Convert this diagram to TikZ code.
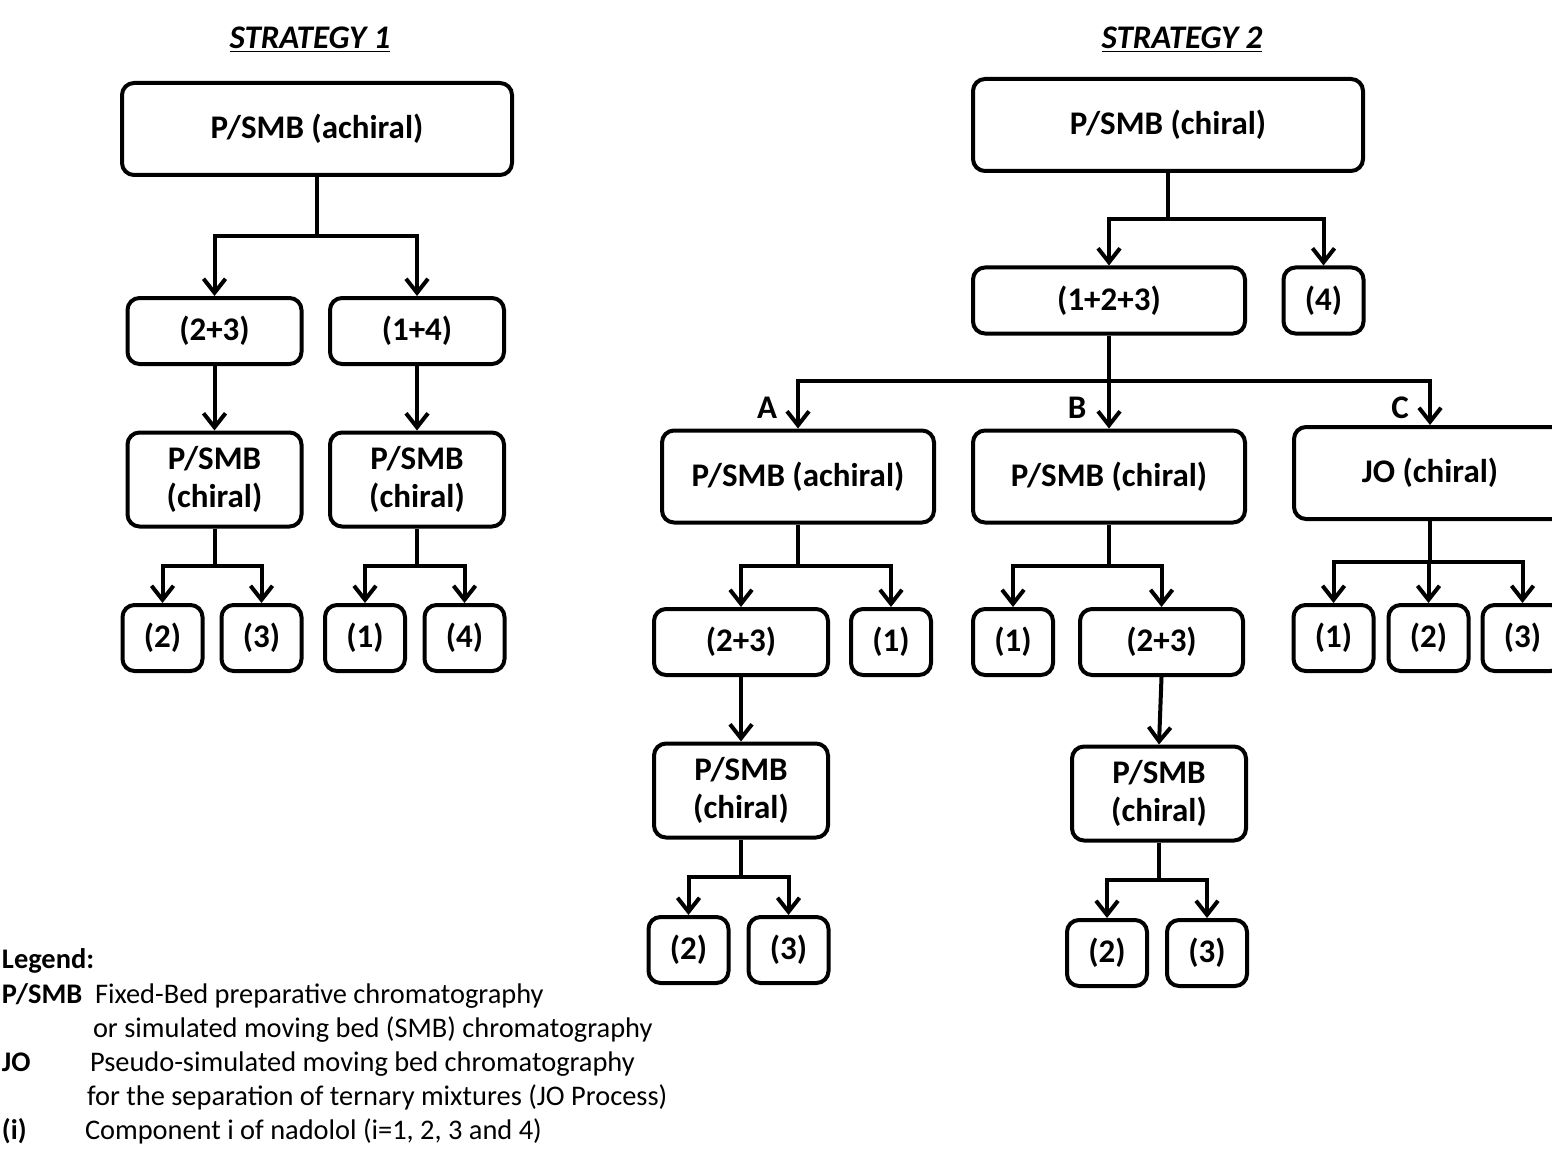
\documentclass[tikz,border=0pt]{standalone}
\usepackage{fontspec}
\setmainfont{Carlito}
\usetikzlibrary{arrows.meta}

\begin{document}
\begin{tikzpicture}[x=0.5pt, y=-0.5pt, line width=2pt,
		box/.style={draw, rounded corners=6pt, align=center, inner sep=0pt, font=\bfseries\fontsize{16.5}{19}\selectfont},
		wide/.style={box, minimum width=195pt, minimum height=46pt},
		widebox/.style={box, minimum width=136pt, minimum height=46pt},
		flat/.style={box, minimum width=136pt, minimum height=33pt},
		mid/.style={box, minimum width=87pt, minimum height=33pt},
		two/.style={box, minimum width=87pt, minimum height=47pt},
		leaf/.style={box, minimum width=40pt, minimum height=33pt},
		ttl/.style={font=\bfseries\fontsize{16.5}{19}\selectfont},
		leg/.style={anchor=base west, inner sep=0pt, font=\fontsize{14.2}{16}\selectfont},
		legb/.style={leg, font=\bfseries\fontsize{14.2}{16}\selectfont},
		arr/.style={-{Straight Barb[length=7pt,width=11pt]}}]
			\clip (0,0) rectangle (1552,1155);
			% titles
			\node[ttl] (ttl1) at (310,40) {\underline{\textit{STRATEGY 1}}};
			\node[ttl] (ttl2) at (1182,40) {\underline{\textit{STRATEGY 2}}};
			% strategy 1
			\node[wide] (t1) at (317,129) {P/SMB (achiral)};
			\node[mid] (s1a) at (214.5,331) {(2+3)};
			\node[mid] (s1b) at (417,331) {(1+4)};
			\node[two] (s1c) at (214.5,479.5) {P/SMB\\(chiral)};
			\node[two] (s1d) at (417,479.5) {P/SMB\\(chiral)};
			\foreach \x/\t/\n in {162.5/{(2)}/s1l1, 261.5/{(3)}/s1l2, 365/{(1)}/s1l3, 464.5/{(4)}/s1l4}
				\node[leaf] (\n) at (\x,638) {\t};
			\coordinate (j1) at (317,236);
			\coordinate (j2) at (214.5,566);
			\coordinate (j3) at (417,566);
			\draw (t1.south) -- (j1);
			\draw[arr] (j1) -| (s1a.north);
			\draw[arr] (j1) -| (s1b.north);
			\draw[arr] (s1a.south) -- (s1c.north);
			\draw[arr] (s1b.south) -- (s1d.north);
			\draw (s1c.south) -- (j2);
			\draw (s1d.south) -- (j3);
			\draw[arr] (j2) -| (s1l1.north);
			\draw[arr] (j2) -| (s1l2.north);
			\draw[arr] (j3) -| (s1l3.north);
			\draw[arr] (j3) -| (s1l4.north);
			% strategy 2
			\node[wide] (t2) at (1168,125) {P/SMB (chiral)};
			\node[flat] (n123) at (1109,300.5) {(1+2+3)};
			\node[leaf] (n4) at (1323.5,300.5) {(4)};
			\node[widebox] (nA) at (798,476.5) {P/SMB (achiral)};
			\node[widebox] (nB) at (1109,476.5) {P/SMB (chiral)};
			\node[widebox] (nC) at (1430,473) {JO (chiral)};
			\node[ttl] (lA) at (767,408) {A};
			\node[ttl] (lB) at (1077,408) {B};
			\node[ttl] (lC) at (1400,408) {C};
			\node[mid] (nA1) at (741,642) {(2+3)};
			\node[leaf] (nA2) at (891,642) {(1)};
			\node[leaf] (nB1) at (1013,642) {(1)};
			\node[box, minimum width=81.5pt, minimum height=33pt] (nB2) at (1161.5,642) {(2+3)};
			\foreach \x/\t/\n in {1333.5/{(1)}/nC1, 1428.5/{(2)}/nC2, 1522.5/{(3)}/nC3}
				\node[leaf] (\n) at (\x,638) {\t};
			\node[two] (nA3) at (741,790.5) {P/SMB\\(chiral)};
			\node[two] (nB3) at (1159,793.5) {P/SMB\\(chiral)};
			\node[leaf] (nA4) at (688.5,950) {(2)};
			\node[leaf] (nA5) at (788.5,950) {(3)};
			\node[leaf] (nB4) at (1107,953) {(2)};
			\node[leaf] (nB5) at (1207,953) {(3)};
			\coordinate (k1) at (1168,219);
			\coordinate (k2) at (1109,381);
			\coordinate (kA) at (798,566);
			\coordinate (kB) at (1109,566);
			\coordinate (kC) at (1430,562);
			\coordinate (kA2) at (741,877);
			\coordinate (kB2) at (1159,880);
			\draw (t2.south) -- (k1);
			\draw[arr] (k1) -| (n123.north);
			\draw[arr] (k1) -| (n4.north);
			\draw (n123.south) -- (k2);
			\draw[arr] (k2) -| (nA.north);
			\draw[arr] (k2) -- (nB.north);
			\draw[arr] (k2) -| (nC.north);
			\draw (nA.south) -- (kA);
			\draw (nB.south) -- (kB);
			\draw (nC.south) -- (kC);
			\draw[arr] (kA) -| (nA1.north);
			\draw[arr] (kA) -| (nA2.north);
			\draw[arr] (kB) -| (nB1.north);
			\draw[arr] (kB) -| (nB2.north);
			\draw[arr] (kC) -| (nC1.north);
			\draw[arr] (kC) -| (nC2.north);
			\draw[arr] (kC) -| (nC3.north);
			\draw[arr] (nA1.south) -- (nA3.north);
			\draw[arr] (nB2.south) -- (nB3.north);
			\draw (nA3.south) -- (kA2);
			\draw (nB3.south) -- (kB2);
			\draw[arr] (kA2) -| (nA4.north);
			\draw[arr] (kA2) -| (nA5.north);
			\draw[arr] (kB2) -| (nB4.north);
			\draw[arr] (kB2) -| (nB5.north);
			% legend
			\node[legb] (lg) at (0,968) {Legend:};
			\node[legb] (lg1) at (0,1003) {P/SMB};
			\node[leg] (lg1a) at (93,1003) {Fixed-Bed preparative chromatography};
			\node[leg] (lg1b) at (91,1037) {or simulated moving bed (SMB) chromatography};
			\node[legb] (lg2) at (0,1071) {JO};
			\node[leg] (lg2a) at (88,1071) {Pseudo-simulated moving bed chromatography};
			\node[leg] (lg2b) at (85,1105) {for the separation of ternary mixtures (JO Process)};
			\node[legb] (lg3) at (0,1139) {(i)};
			\node[leg] (lg3a) at (83,1139) {Component i of nadolol (i=1, 2, 3 and 4)};
		\end{tikzpicture}
\end{document}
